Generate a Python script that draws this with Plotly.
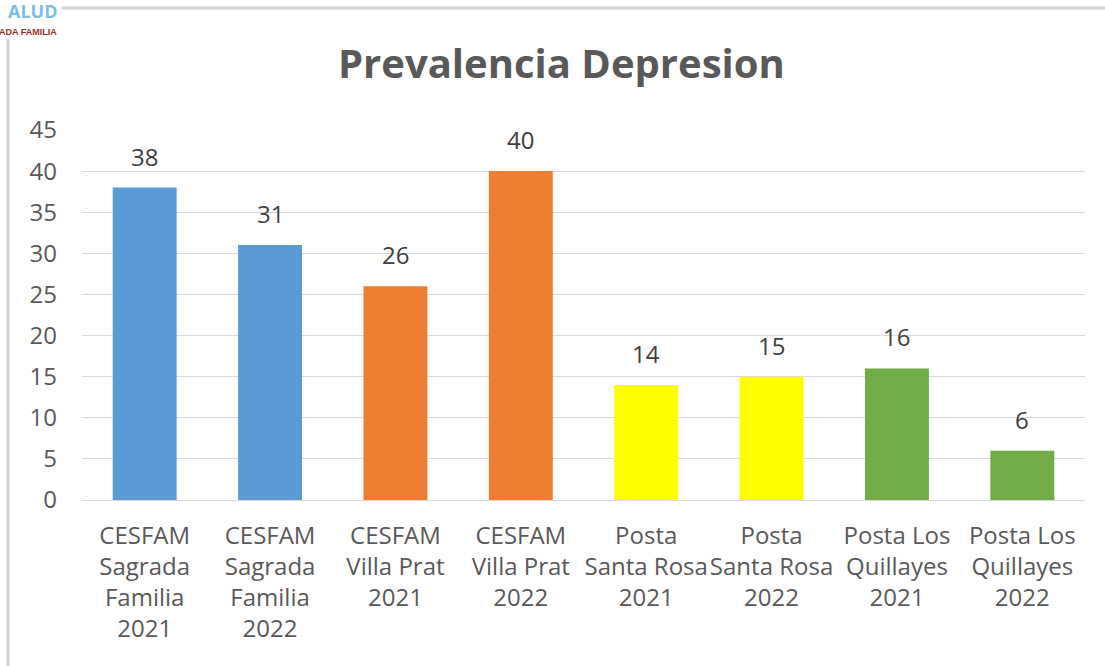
import plotly.graph_objects as go

categories = ["CESFAM<br>Sagrada<br>Familia<br>2021", "CESFAM<br>Sagrada<br>Familia<br>2022",
              "CESFAM<br>Villa Prat<br>2021", "CESFAM<br>Villa Prat<br>2022",
              "Posta<br>Santa Rosa<br>2021", "Posta<br>Santa Rosa<br>2022",
              "Posta Los<br>Quillayes<br>2021", "Posta Los<br>Quillayes<br>2022"]
values = [38, 31, 26, 40, 14, 15, 16, 6]
colors = ["#5B9BD5", "#5B9BD5", "#ED7D31", "#ED7D31", "#FFFF00", "#FFFF00", "#70AD47", "#70AD47"]
y_ticks = [0, 5, 10, 15, 20, 25, 30, 35, 40, 45]

W, H = 1105, 666
L, R, T, B = 82, 20, 130, 166
pw, ph = W - L - R, H - T - B

def px(x):  # screen px -> paper
    return (x - L) / pw

def py(y):
    return (H - B - y) / ph

fig = go.Figure()
fig.add_trace(go.Bar(x=categories, y=values, marker=dict(color=colors, line=dict(width=0)),
                     width=0.51, hoverinfo="skip"))

for c, v in zip(categories, values):
    fig.add_annotation(x=c, y=v, text=str(v), showarrow=False, yanchor="bottom", yshift=13,
                       font=dict(family="Open Sans", size=24, color="#404040"))

fig.add_annotation(xref="paper", yref="paper", x=px(561), y=py(62), text="<b>Prevalencia Depresion</b>",
                   showarrow=False, xanchor="center", yanchor="middle",
                   font=dict(family="Open Sans", size=40, color="#595959"))

# frame lines
fig.add_shape(type="line", xref="paper", yref="paper", x0=px(8), x1=px(1105), y0=py(8), y1=py(8),
              line=dict(color="#D4D4D4", width=3))
fig.add_shape(type="line", xref="paper", yref="paper", x0=px(8), x1=px(8), y0=py(8), y1=py(666),
              line=dict(color="#D4D4D4", width=3))
# logo white background
fig.add_shape(type="rect", xref="paper", yref="paper", x0=px(0), x1=px(62), y0=py(0), y1=py(39),
              line=dict(width=0), fillcolor="white")

# logo fragments
fig.add_annotation(xref="paper", yref="paper", x=px(60), y=py(25), text="<b>ALUD</b>",
                   showarrow=False, xanchor="right", yanchor="bottom",
                   font=dict(family="Open Sans", size=18, color="#7DBDE8"))
fig.add_annotation(xref="paper", yref="paper", x=px(59), y=py(32), text="<b>ADA FAMILIA</b>",
                   showarrow=False, xanchor="right", yanchor="middle",
                   font=dict(family="Liberation Sans", size=9, color="#A0282D"))

fig.update_layout(
    width=W, height=H, margin=dict(l=L, r=R, t=T, b=B),
    paper_bgcolor="white", plot_bgcolor="white", showlegend=False,
    font=dict(family="Open Sans", color="#595959"),
    bargap=0.49,
)
fig.update_xaxes(tickfont=dict(size=24, color="#595959"), showline=True, linecolor="#D9D9D9",
                 linewidth=1, ticks="", ticklabelstandoff=14, tickangle=0)
fig.update_yaxes(range=[0, 45], tickvals=y_ticks, tickfont=dict(size=24, color="#595959"),
                 showgrid=True, gridcolor="#D9D9D9", gridwidth=1, zeroline=False,
                 showline=False, ticks="", ticklabelstandoff=24)

fig.write_html("out.html", config={"displayModeBar": False},
               post_script="document.body.style.margin='0';document.body.style.overflow='hidden';")
